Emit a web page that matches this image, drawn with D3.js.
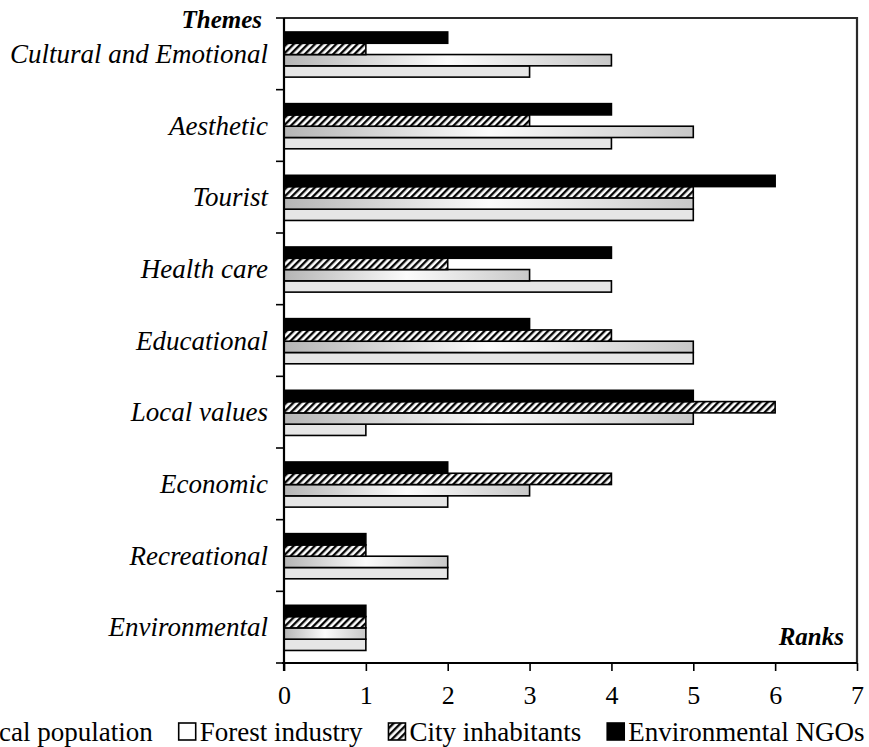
<!DOCTYPE html>
<html>
<head>
<meta charset="utf-8">
<script src="https://cdn.jsdelivr.net/npm/d3@7"></script>
<style>
  body { margin: 0; background: #fff; }
  svg { display: block; }
  svg text { font-family: "Liberation Serif", "Times New Roman", Times, "DejaVu Serif", serif !important; fill: #000; }
</style>
</head>
<body>
<svg width="869" height="747"></svg>
<script>
// categories, top to bottom
let themes = ["Cultural and Emotional", "Aesthetic", "Tourist", "Health care", "Educational",
              "Local values", "Economic", "Recreational", "Environmental"];
let series = ["Local population", "Forest industry", "City inhabitants", "Environmental NGOs"];

// ranks per series, same order as themes
let localPopulation   = [3, 4, 5, 4, 5, 1, 2, 2, 1];
let forestIndustry    = [4, 5, 5, 3, 5, 5, 3, 2, 1];
let cityInhabitants   = [1, 3, 5, 2, 4, 6, 4, 1, 1];
let environmentalNGOs = [2, 4, 6, 4, 3, 5, 2, 1, 1];

let rankTicks = [0, 1, 2, 3, 4, 5, 6, 7];

let values = {
    "Local population": localPopulation,
    "Forest industry": forestIndustry,
    "City inhabitants": cityInhabitants,
    "Environmental NGOs": environmentalNGOs
};

let plot = {left: 284, right: 857, top: 18, bottom: 663};

let svg = d3.select("svg");
let defs = svg.append("defs");

// hatch for city inhabitants
let hatch = defs.append("pattern")
    .attr("id", "hatch")
    .attr("patternUnits", "userSpaceOnUse")
    .attr("width", 5).attr("height", 5)
    .attr("patternTransform", "rotate(45)");
hatch.append("rect").attr("width", 5).attr("height", 5).attr("fill", "#fff");
hatch.append("line").attr("x1", 1.2).attr("y1", 0).attr("x2", 1.2).attr("y2", 5)
    .attr("stroke", "#000").attr("stroke-width", 2.3);

// gray-white-gray shading for forest industry
let grad = defs.append("linearGradient").attr("id", "forestGrad")
    .attr("x1", 0).attr("x2", 1).attr("y1", 0).attr("y2", 0);
grad.append("stop").attr("offset", "0%").attr("stop-color", "#b5b5b5");
grad.append("stop").attr("offset", "50%").attr("stop-color", "#fbfbfb");
grad.append("stop").attr("offset", "100%").attr("stop-color", "#c8c8c8");

let fills = {
    "Local population": "#e6e6e6",
    "Forest industry": "url(#forestGrad)",
    "City inhabitants": "url(#hatch)",
    "Environmental NGOs": "#000"
};

let x = d3.scaleLinear().domain([0, 7]).range([plot.left, plot.right]);
let y0 = d3.scaleBand().domain(themes).range([plot.top, plot.bottom]);
// bars in a group: NGOs on top, local population at the bottom
let y1 = d3.scaleBand().domain(series.slice().reverse())
    .range([y0.bandwidth() * 0.195, y0.bandwidth() * 0.825]);

// frame (top and right)
svg.append("path")
    .attr("d", "M" + plot.left + "," + plot.top + "H" + plot.right + "V" + plot.bottom)
    .attr("fill", "none").attr("stroke", "#2a2a2a").attr("stroke-width", 2.2);

// bars
let groups = svg.selectAll(".theme").data(themes).enter().append("g")
    .attr("class", "theme")
    .attr("transform", function(d) { return "translate(0," + y0(d) + ")"; });

groups.selectAll("rect")
    .data(function(d, i) {
        return series.map(function(s) { return {key: s, value: values[s][i]}; });
    })
    .enter().append("rect")
    .attr("x", x(0))
    .attr("y", function(d) { return y1(d.key); })
    .attr("width", function(d) { return x(d.value) - x(0); })
    .attr("height", y1.bandwidth())
    .attr("fill", function(d) { return fills[d.key]; })
    .attr("stroke", "#000")
    .attr("stroke-width", 1.6);

// x axis
let xAxis = svg.append("g")
    .attr("transform", "translate(0," + plot.bottom + ")")
    .call(d3.axisBottom(x).tickValues(rankTicks).tickFormat(d3.format("d"))
        .tickSize(8).tickPadding(15).tickSizeOuter(0));
xAxis.attr("font-family", null);
xAxis.select(".domain").attr("stroke-width", 2.2).attr("d", "M" + (plot.left - 2) + ",0H" + plot.right);
xAxis.selectAll(".tick line").attr("stroke-width", 1.6);
xAxis.selectAll(".tick text").style("font-size", "26px");

// y axis with ticks on band edges
let edges = themes.map(function(d) { return y0(d); }).concat([plot.bottom]);
let yAxis = svg.append("g");
yAxis.append("line")
    .attr("x1", plot.left).attr("x2", plot.left)
    .attr("y1", plot.top).attr("y2", plot.bottom + 8)
    .attr("stroke", "#000").attr("stroke-width", 2.2);
yAxis.selectAll(".edge").data(edges).enter().append("line")
    .attr("class", "edge")
    .attr("x1", plot.left - 8).attr("x2", plot.left)
    .attr("y1", function(d) { return d; }).attr("y2", function(d) { return d; })
    .attr("stroke", "#000").attr("stroke-width", 1.6);

svg.selectAll(".theme-label").data(themes).enter().append("text")
    .attr("class", "theme-label")
    .attr("x", 268)
    .attr("y", function(d) { return y0(d) + y0.bandwidth() / 2 + 9; })
    .attr("text-anchor", "end")
    .style("font-style", "italic")
    .style("font-size", "27px")
    .text(function(d) { return d; });

svg.append("text")
    .attr("x", 262).attr("y", 28)
    .attr("text-anchor", "end")
    .style("font-style", "italic").style("font-weight", "bold")
    .style("font-size", "25px")
    .text("Themes");

svg.append("text")
    .attr("x", 844).attr("y", 645)
    .attr("text-anchor", "end")
    .style("font-style", "italic").style("font-weight", "bold")
    .style("font-size", "25px")
    .text("Ranks");

// legend, laid out left to right; it runs past the left edge like the original
let legend = svg.append("g").attr("transform", "translate(0,741)");
let lx = -52;
series.forEach(function(s) {
    let item = legend.append("g").attr("transform", "translate(" + lx + ",0)");
    item.append("rect")
        .attr("x", 0).attr("y", -18)
        .attr("width", 17).attr("height", 17)
        .attr("fill", s == "Forest industry" ? "#fff" : fills[s])
        .attr("stroke", "#000").attr("stroke-width", 1.6);
    let t = item.append("text")
        .attr("x", 21).attr("y", 0)
        .style("font-size", "27px")
        .text(s);
    lx += 21 + t.node().getComputedTextLength() + 26;
});
</script>
</body>
</html>
